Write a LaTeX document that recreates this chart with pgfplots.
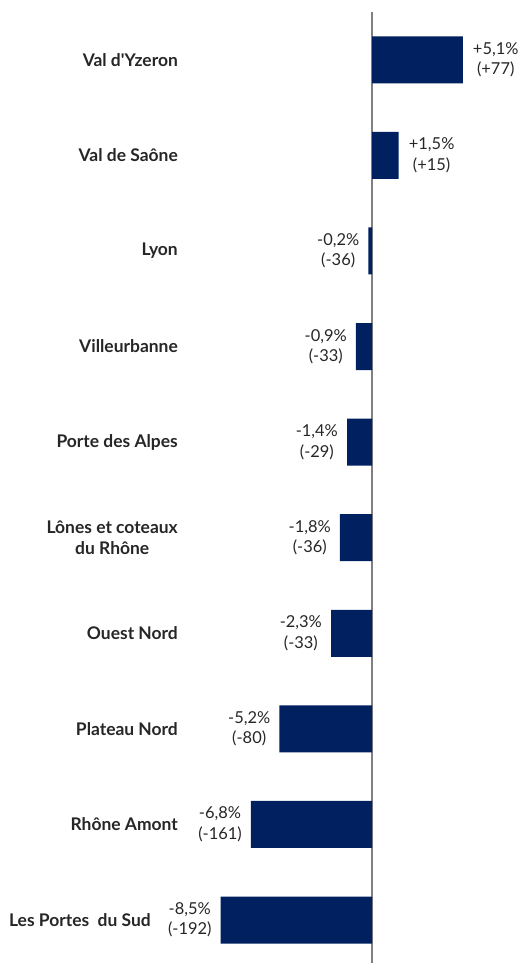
\documentclass[border=0pt]{standalone}
\usepackage{fontspec}
\setmainfont{Lato}[Ligatures=TeXOff]
\usepackage{pgfplots}
\pgfplotsset{compat=1.18}
\definecolor{barblue}{RGB}{0,32,96}
\begin{document}
\begin{tikzpicture}
\begin{axis}[
  scale only axis,
  width=521bp, height=951bp,
  xmin=-20.9, xmax=8.37,
  ymin=-0.5, ymax=9.45,
  y dir=reverse,
  xbar, bar width=47bp, bar shift=0pt,
  axis line style={draw=none},
  major tick length=0pt,
  xtick=\empty,
  extra x ticks={0}, extra x tick labels={},
  extra x tick style={grid=major, major grid style={draw=gray, line width=1.3bp}},
  ytick={0,1,2,3,4,5,6,7,8,9},
  yticklabels={Val d'Yzeron, Val de Saône, Lyon, Villeurbanne, Porte des Alpes, {Lônes et coteaux\\du Rhône}, Ouest Nord, Plateau Nord, Rhône Amont, {Les Portes\ \ du Sud\rule{27bp}{0pt}}},
  yticklabel style={anchor=east, inner sep=0pt, xshift=178bp, align=center, font=\fontsize{17.5}{21.5}\selectfont\bfseries, text=black!85},
  point meta=explicit symbolic,
  nodes near coords,
  clip=false,
]
\addplot[fill=barblue, draw=none, nodes near coords style={anchor=west, inner sep=0pt, xshift=10bp, align=center, font=\fontsize{16.5}{20.5}\selectfont, text=black!85}]
  coordinates {
  (5.1,0) [{+5,1\%\\(+77)}]
  (1.5,1) [{+1,5\%\\(+15)}]
};
\addplot[fill=barblue, draw=none, nodes near coords style={anchor=east, inner sep=0pt, xshift=-9bp, align=center, font=\fontsize{16.5}{20.5}\selectfont, text=black!85}]
  coordinates {
  (-0.2,2) [{-0,2\%\\(-36)}]
  (-0.9,3) [{-0,9\%\\(-33)}]
  (-1.4,4) [{-1,4\%\\(-29)}]
  (-1.8,5) [{-1,8\%\\(-36)}]
  (-2.3,6) [{-2,3\%\\(-33)}]
  (-5.2,7) [{-5,2\%\\(-80)}]
  (-6.8,8) [{-6,8\%\\(-161)}]
  (-8.5,9) [{-8,5\%\\(-192)}]
};
\end{axis}
\pgfresetboundingbox
\useasboundingbox (current axis.south west) rectangle ([yshift=12bp]current axis.north east);
\end{tikzpicture}
\end{document}
